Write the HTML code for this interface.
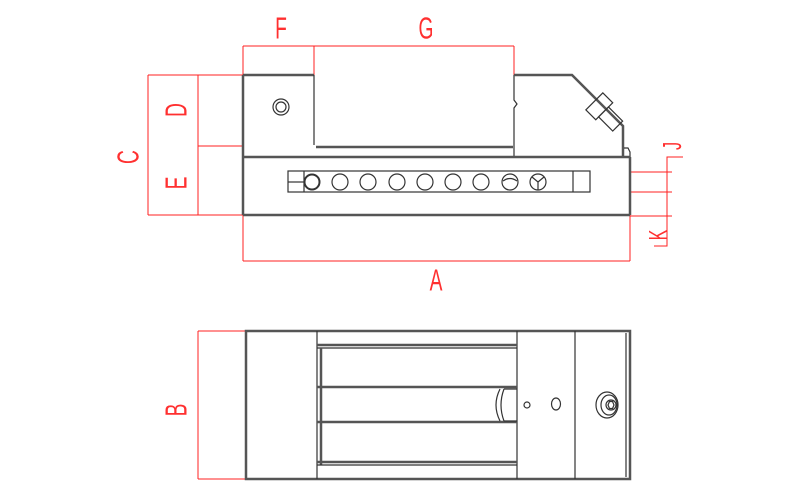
<!DOCTYPE html>
<html><head><meta charset="utf-8"><style>
html,body{margin:0;padding:0;background:#fff;width:798px;height:502px;overflow:hidden}
svg{display:block}
.r{stroke:#ff2020;stroke-width:1;fill:none}
.b{stroke:#333;stroke-width:1.2;fill:none}
.bt{stroke:#555;stroke-width:2.5;fill:none}
.t{fill:#ff3030;font-family:"Liberation Sans",sans-serif;font-size:31px;text-anchor:middle;dominant-baseline:central}
</style></head><body>
<svg width="798" height="502" viewBox="0 0 798 502" xmlns="http://www.w3.org/2000/svg">
<g class="r">
<line x1="243" y1="46" x2="243" y2="75"/><line x1="314" y1="46" x2="314" y2="75"/><line x1="514" y1="46" x2="514" y2="75"/>
<line x1="243" y1="46" x2="514" y2="46"/>
<line x1="148" y1="75" x2="243" y2="75"/><line x1="198" y1="146" x2="243" y2="146"/><line x1="148" y1="215" x2="243" y2="215"/>
<line x1="148" y1="75" x2="148" y2="215"/><line x1="198" y1="75" x2="198" y2="215"/>
<line x1="243" y1="215" x2="243" y2="261"/><line x1="630" y1="215" x2="630" y2="261"/>
<line x1="243" y1="261" x2="630" y2="261"/>
<line x1="630" y1="172" x2="672" y2="172"/><line x1="630" y1="192" x2="672" y2="192"/><line x1="630" y1="216" x2="672" y2="216"/>
<polyline points="683,157 667,157 667,246 654,246"/>
<line x1="198" y1="331" x2="246" y2="331"/><line x1="198" y1="479" x2="246" y2="479"/>
<line x1="198" y1="331" x2="198" y2="479"/>
</g>
<g class="t">
<text transform="translate(281 29) scale(0.62 1)">F</text>
<text transform="translate(426 29) scale(0.62 1)">G</text>
<text transform="translate(436 281) scale(0.62 1)">A</text>
<text transform="translate(129 157) rotate(-90) scale(0.62 1)">C</text>
<text transform="translate(177 110) rotate(-90) scale(0.62 1)">D</text>
<text transform="translate(177 183) rotate(-90) scale(0.62 1)">E</text>
<text transform="translate(177 410) rotate(-90) scale(0.62 1)">B</text>
<text transform="translate(672 146) rotate(-90) scale(0.62 1)" style="font-size:26px">J</text>
<text transform="translate(658 235) rotate(-90) scale(0.62 1)" style="font-size:26px">K</text>
</g>
<g class="b">
<line x1="243" y1="75" x2="314" y2="75" class="bt"/>
<line x1="243" y1="75" x2="243" y2="215" class="bt"/>
<line x1="314" y1="75" x2="314" y2="145"/>
<line x1="316" y1="147" x2="513" y2="147" class="bt"/>
<polyline points="514,75 514,100 517,104 514,108 514,157"/>
<polyline points="514,75 572,75 623,126 623,157" class="bt"/>
<polyline points="624,148 628,148 630,152 630,215"/>
<line x1="243" y1="157" x2="630" y2="157" class="bt"/>
<line x1="243" y1="215" x2="630" y2="215" class="bt"/>
<line x1="630" y1="157" x2="630" y2="215" class="bt"/>
<circle cx="281" cy="107" r="8"/><circle cx="281" cy="107" r="5"/>
<rect x="288" y="171" width="302" height="21"/>
<line x1="304" y1="171" x2="304" y2="192"/><line x1="573" y1="171" x2="573" y2="192"/>
<line x1="288" y1="182" x2="304" y2="182"/>
<circle cx="312" cy="182" r="7.5" stroke-width="2"/>
<circle cx="340" cy="182" r="8"/><circle cx="368" cy="182" r="8"/><circle cx="397" cy="182" r="8"/>
<circle cx="425" cy="182" r="8"/><circle cx="453" cy="182" r="8"/><circle cx="481" cy="182" r="8"/>
<circle cx="510" cy="182" r="8"/><path d="M503 181 Q510 176 517 181"/>
<circle cx="538" cy="182" r="8"/><path d="M538 182 L532 177 M538 182 L544 177 M538 182 V190"/>
<g transform="rotate(-45 600 107)">
<rect x="588" y="99" width="24" height="14"/>
<rect x="592" y="113" width="14" height="20"/>
</g>
</g>
<g class="b">
<rect x="246" y="331" width="384" height="148" class="bt"/>
<line x1="317" y1="331" x2="317" y2="479"/>
<line x1="517" y1="331" x2="517" y2="479"/>
<line x1="575" y1="331" x2="575" y2="479"/>
<line x1="626" y1="333" x2="626" y2="477"/>
<line x1="317" y1="345" x2="517" y2="345" class="bt"/>
<line x1="317" y1="348" x2="517" y2="348"/>
<line x1="321" y1="348" x2="321" y2="465" class="bt"/>
<line x1="317" y1="387" x2="517" y2="387" class="bt"/>
<line x1="317" y1="422" x2="517" y2="422" class="bt"/>
<line x1="317" y1="462" x2="517" y2="462" class="bt"/>
<line x1="317" y1="465" x2="517" y2="465"/>
<path d="M500 389 Q492 405 500 421 M504 389 Q498 405 504 421 M504 389 H517 M504 421 H517"/>
<circle cx="527" cy="405" r="3"/>
<ellipse cx="556" cy="404" rx="4.5" ry="6"/>
<ellipse cx="607" cy="405" rx="11" ry="13"/><ellipse cx="609" cy="405" rx="8" ry="10"/>
<circle cx="611" cy="405" r="5"/>
<polygon points="608,405 609.5,401.5 612.5,401.5 614,405 612.5,408.5 609.5,408.5"/>
</g>
</svg>
</body></html>
